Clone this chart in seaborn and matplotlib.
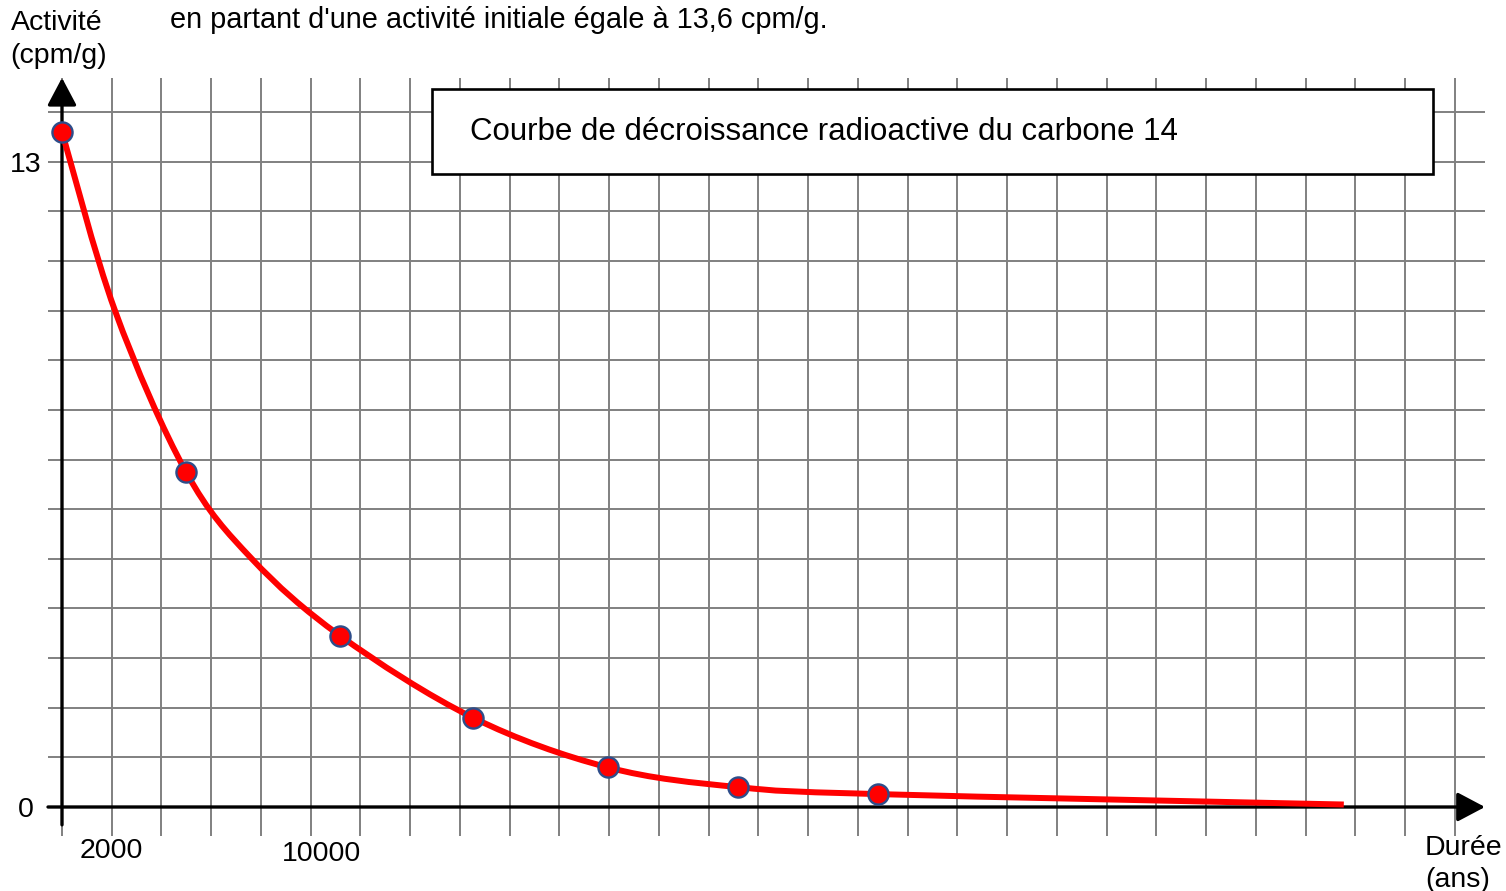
import numpy as np
import matplotlib
matplotlib.use('Agg')
import matplotlib.pyplot as plt
import matplotlib.transforms as mtransforms
from matplotlib.patches import Rectangle, PathPatch
from matplotlib.path import Path
import seaborn as sns

# points (years, cpm/g)
point_years = [0, 4985, 11180, 16520, 21930, 27190, 32810]
point_activity = [13.6, 6.75, 3.45, 1.8, 0.8, 0.4, 0.26]

# nodes of the hand drawn decay curve
curve_years = [0, 2130, 4985, 7630, 11180, 16520, 21930, 27190, 32810, 51530]
curve_activity = [13.6, 10.0, 6.75, 5.0, 3.45, 1.8, 0.8, 0.4, 0.26, 0.05]

x_ticks = [2000, 10000]
x_tick_labels = ['2000', '10000']
y_ticks = [0, 13]
y_tick_labels = ['0', '13']

title_top = "en partant d'une activité initiale égale à 13,6 cpm/g."
box_text = "Courbe de décroissance radioactive du carbone 14"


def smooth_path(xs, ys):
    """Bezier path through the nodes (same idea as a 'smoothed line')."""
    pts = np.column_stack([xs, ys]).astype(float)
    n = len(pts)
    verts = [pts[0]]
    codes = [Path.MOVETO]
    for i in range(n - 1):
        p_prev = pts[max(i - 1, 0)]
        p_next2 = pts[min(i + 2, n - 1)]
        c1 = pts[i] + (pts[i + 1] - p_prev) / 6
        c2 = pts[i + 1] - (p_next2 - pts[i]) / 6
        verts += [c1, c2, pts[i + 1]]
        codes += [Path.CURVE4] * 3
    return Path(verts, codes)


sns.set_style('white')
plt.rcParams['font.family'] = ['Liberation Sans', 'DejaVu Sans']
plt.rcParams['text.color'] = 'black'
plt.rcParams['xtick.color'] = 'black'
plt.rcParams['ytick.color'] = 'black'

W, H = 1506, 891
fig = plt.figure(figsize=(W / 100, H / 100), dpi=100)
ax = fig.add_axes([0, 0, 1, 1])

# pixel scale of the reference: 49.75 px per 2000 years, 49.64 px per unit
ypp = 2000 / 49.75
upp = 1 / 49.64
ax.set_xlim(-62 * ypp, (W - 62) * ypp)
ax.set_ylim(-(H - 807) * upp, 807 * upp)

grid_col = '#808080'
ax.vlines(np.arange(0, 56001, 2000), -0.584, 14.69, color=grid_col, lw=1.4, zorder=1)
ax.hlines(np.arange(1, 15), -563, 57205, color=grid_col, lw=1.4, zorder=1)

# axes with arrows
arrow_kw = dict(arrowstyle='-|>,head_length=0.85,head_width=0.45',
                lw=2.4, color='black', mutation_scale=20, shrinkA=0, shrinkB=0)
ax.annotate('', xy=(57205, 0), xytext=(-563, 0), arrowprops=arrow_kw, zorder=3)
ax.annotate('', xy=(0, 14.69), xytext=(0, -0.36), arrowprops=arrow_kw, zorder=3)

# the red curve
ax.add_patch(PathPatch(smooth_path(curve_years, curve_activity), facecolor='none',
                       edgecolor='red', lw=4.3, capstyle='butt', zorder=4))
sns.scatterplot(x=point_years, y=point_activity, s=210, color='red',
                edgecolor='#2E4D8A', linewidth=1.7, ax=ax, zorder=5)

# title box
ax.add_patch(Rectangle((370 * ypp, (807 - 174) * upp), 1001 * ypp, 85 * upp,
                       facecolor='white', edgecolor='black', lw=1.9, zorder=6))
fig.text(470 / W, 1 - 140 / H, box_text, fontsize=22.5, va='baseline', zorder=7)

# ticks on spines placed at zero
for side in ['top', 'right']:
    ax.spines[side].set_visible(False)
ax.spines['left'].set_position(('data', 0))
ax.spines['bottom'].set_position(('data', 0))
ax.spines['left'].set_color('none')
ax.spines['bottom'].set_color('none')
ax.set_xticks(x_ticks)
ax.set_xticklabels(x_tick_labels)
ax.set_yticks(y_ticks)
ax.set_yticklabels(y_tick_labels)
ax.tick_params(axis='x', length=0, pad=22, labelsize=20.5, labelcolor='black')
ax.tick_params(axis='y', length=0, pad=26, labelsize=20.5, labelcolor='black')
for lbl in ax.get_yticklabels():
    lbl.set_ha('center')
# the "10000" label sits a little right of its grid line in the original
lbl = ax.get_xticklabels()[1]
lbl.set_transform(lbl.get_transform() +
                  mtransforms.ScaledTranslation(11 / 100, -3 / 100, fig.dpi_scale_trans))
ax.set_xlabel('')
ax.set_ylabel('')

fig.text(11 / W, 1 - 30 / H, 'Activité', fontsize=20.5, va='baseline')
fig.text(10 / W, 1 - 63 / H, '(cpm/g)', fontsize=20.5, va='baseline')
fig.text(170 / W, 1 - 28 / H, title_top, fontsize=20.8, va='baseline')
fig.text(1425 / W, 1 - 855 / H, 'Durée', fontsize=20.5, va='baseline')
fig.text(1425 / W, 1 - 887 / H, '(ans)', fontsize=20.5, va='baseline')

fig.savefig('out.png', dpi=100)
